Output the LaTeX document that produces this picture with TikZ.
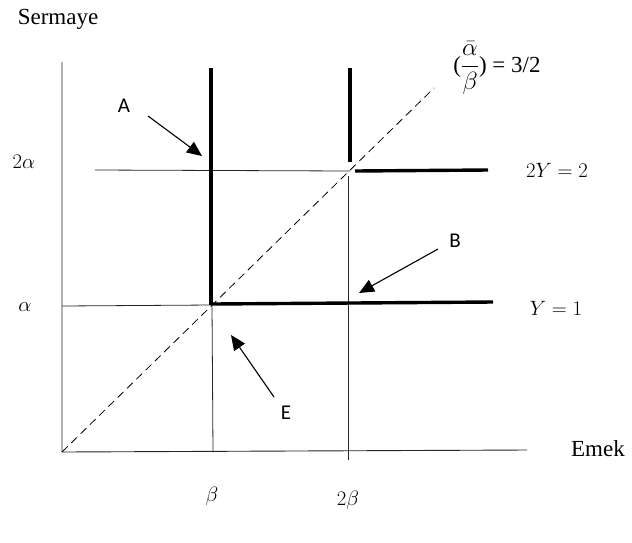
\documentclass[tikz,border=0pt]{standalone}
\usepackage{amsmath}
\usepackage{fontspec}
\setmainfont{Liberation Serif}
\newfontfamily\calibrifont{Carlito}
\usepackage{tikz}
\usetikzlibrary{arrows.meta,positioning,calc}

\begin{document}
\begin{tikzpicture}[
    x=1pt, y=-1pt,
    font=\fontsize{23}{26}\selectfont,
    axisline/.style={draw=black!85, line width=0.9pt},
    gridline/.style={draw=black!85, line width=0.8pt},
    isoquant/.style={draw=black, line width=3.4pt},
    raydash/.style={draw=black, line width=0.8pt, dash pattern=on 8pt off 5pt},
    pointer/.style={-{Triangle[length=15pt, width=13pt]}, line width=1.1pt},
    letter/.style={font=\calibrifont\fontsize{21}{24}\selectfont, inner sep=1pt},
    mathlabel/.style={font=\fontsize{22}{26}\selectfont, inner sep=1pt}
]
    \useasboundingbox (0,0) rectangle (632,542);

    % Axes
    \coordinate (O) at (62,452);
    \coordinate (ytop) at (62,62);
    \coordinate (xend) at (527,450);
    \draw [axisline] (ytop) -- (O) -- (xend);
    \node (sermaye) at (58,19) {Sermaye};
    \node (emek) at (598,449) {Emek};

    % Corner points of the two isoquants
    \coordinate (E1) at (212,305);
    \coordinate (E2) at (350,171);

    % 1. Thin guide lines
    \draw [gridline] (62,306) -- (E1);
    \draw [gridline] (95,170) -- (E2);
    \draw [gridline] (E1) -- (213,452);
    \draw [gridline] (348,176) -- (348,460);

    % 2. Ray from the origin
    \draw [raydash] (O) -- (434,88);

    % 3. Isoquants Y = 1 and 2Y = 2
    \draw [isoquant] (211,68) -- (211,305);
    \draw [isoquant] (213,304) -- (493,302);
    \draw [isoquant] (350,68) -- (350,162);
    \draw [isoquant] (355,171) -- (488,170);

    % Axis values
    \node [mathlabel] (alpha) at (25,307) {$\alpha$};
    \node [mathlabel] (twoalpha) at (24,162) {$2\alpha$};
    \node [mathlabel] (beta) at (212,496) {$\beta$};
    \node [mathlabel] (twobeta) at (348,500) {$2\beta$};
    \node [mathlabel] (ylow) at (556,308) {$Y=1$};
    \node [mathlabel] (yhigh) at (557,170) {$2Y=2$};
    \node [inner sep=1pt] (ratio) at (497,68) {($\dfrac{\bar{\alpha}}{\beta}$) = 3/2};

    % 4. Pointers
    \node [letter] (A) at (124,106) {A};
    \node [letter] (B) at (455,241) {B};
    \node [letter] (E) at (286,413) {E};
    \coordinate (Atip) at (202,156);
    \coordinate (Btip) at (359,293);
    \coordinate (Etip) at (231,335);
    \draw [pointer] (148,116) -- (Atip);
    \draw [pointer] (438,249) -- (Btip);
    \draw [pointer] (274,397) -- (Etip);

\end{tikzpicture}
\end{document}
